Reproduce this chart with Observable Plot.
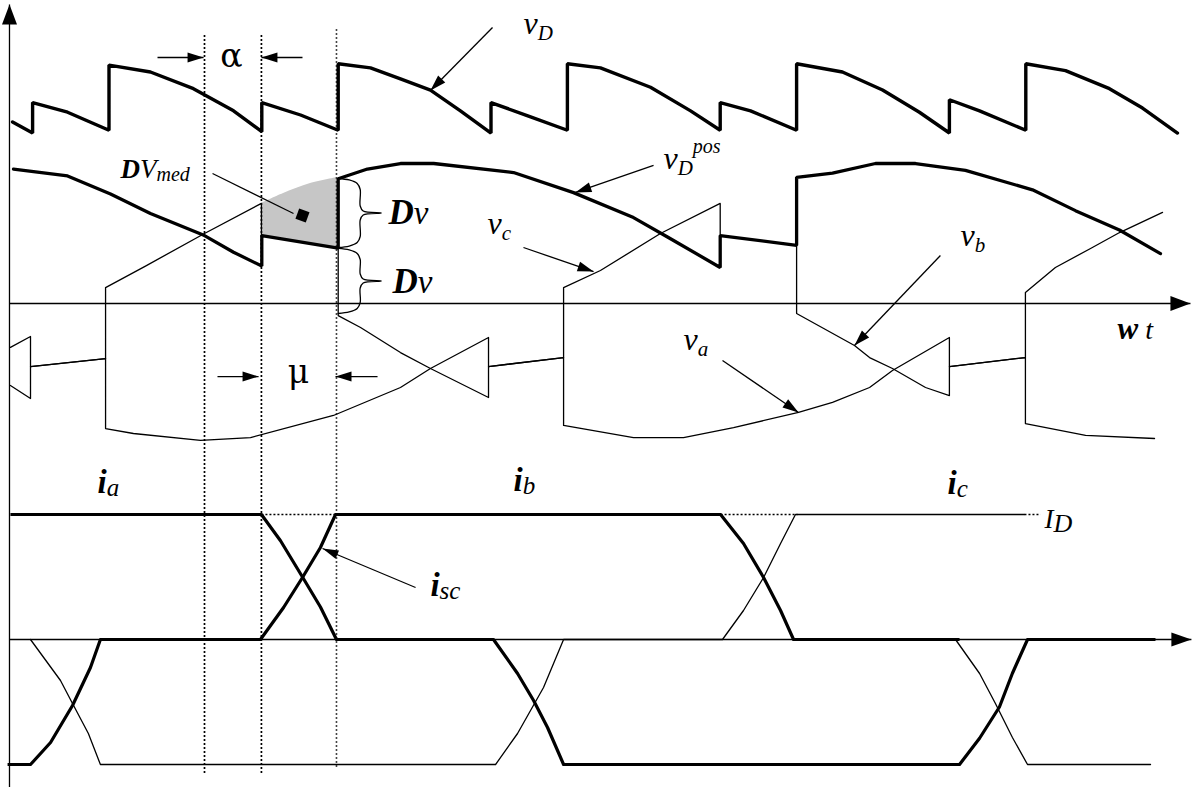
<!DOCTYPE html>
<html>
<head>
<meta charset="utf-8">
<script src="https://cdn.jsdelivr.net/npm/d3@7"></script>
<script src="https://cdn.jsdelivr.net/npm/@observablehq/plot@0.6"></script>
<style>
  html, body { margin: 0; padding: 0; background: #fff; overflow: hidden; }
  #chart { position: relative; width: 1192px; height: 787px; background: #fff; }
  #chart svg { position: absolute; left: 0; top: 0; }
  #chart tspan { white-space: pre; }
</style>
</head>
<body>
<div id="chart"></div>
<script>
// ---------- DATA (ωt in electrical degrees; voltages in p.u. of phase peak; currents in p.u. of I_D) ----------
const vD_wave = [[-70.5,1.31],[-60,1.23],[-60,1.45],[-41.7,1.38],[-20,1.25],[-20,1.72],[1.7,1.67],[24.2,1.55],[45.2,1.39],[60,1.24],[60,1.45],[80.3,1.36],[100,1.25],[100,1.73],[116.9,1.70],[132.6,1.62],[148.3,1.54],[164,1.39],[180,1.23],[180,1.45],[200,1.35],[220,1.25],[220,1.73],[237.3,1.70],[263.5,1.56],[284.5,1.39],[300,1.25],[300,1.45],[315.9,1.39],[340,1.25],[340,1.73],[364,1.67],[385,1.54],[404.3,1.38],[420,1.23],[420,1.47],[435.8,1.39],[460,1.25],[460,1.73],[480.8,1.68],[503.8,1.55],[521.1,1.41],[539.4,1.23]];
const vDpos_wave = [[-70,0.97],[-41.7,0.92],[-19.2,0.79],[1.7,0.65],[30,0.49],[45.2,0.37],[60,0.27],[60,0.49],[100,0.40],[100,0.90],[115.3,0.97],[132.6,1.01],[150,1.01],[191.8,0.945],[223.2,0.80],[254.6,0.62],[272.4,0.48],[300,0.26],[300,0.49],[340,0.42],[340,0.91],[358.8,0.94],[381.3,1.01],[402.3,1.01],[428.4,0.96],[463.5,0.82],[486,0.67],[509,0.53],[530.5,0.36]];
const vA_thin = [[100,0.404],[100,-0.087],[111.7,-0.173],[132.6,-0.354],[148.3,-0.469],[178.7,-0.678],[178.7,-0.455],[218,-0.39],[218,-0.88],[254.6,-0.967],[280.8,-0.967],[307,-0.895],[341,-0.786],[358.8,-0.714],[378.2,-0.606],[390.2,-0.483],[420,-0.245],[420,-0.455],[459.8,-0.39],[459.8,0.079],[475.5,0.26],[493.9,0.397],[509.1,0.512],[531.6,0.657]];
const vB_thin1 = [[-71.6,-0.317],[-61.1,-0.238],[-61.1,-0.455],[-21.8,-0.397],[-21.8,0.115],[-0.9,0.27],[30,0.505],[59.8,0.722],[59.8,0.491]];
const vB_thin2 = [[340,0.418],[340,-0.072],[370.3,-0.303],[378.2,-0.390],[390.2,-0.469],[407.5,-0.606],[420,-0.664],[420,-0.455],[459.8,-0.39],[459.8,-0.866],[491.3,-0.952],[527.4,-0.974]];
const vC_thin = [[-71.6,-0.592],[-61.1,-0.685],[-61.1,-0.455],[-21.8,-0.397],[-21.8,-0.902],[-7.2,-0.938],[27.9,-0.988],[54.1,-0.967],[97.5,-0.808],[132.6,-0.606],[148.3,-0.469],[178.7,-0.245],[178.7,-0.455],[218,-0.39],[218,0.115],[237.3,0.238],[268.7,0.505],[300,0.722],[300,0.491]];
// shaded ΔV_med area (commutation 60°..100°)
const dvX   = [59.8, 71.4, 85.5, 100];
const dvTop = [0.722, 0.794, 0.866, 0.909];
const dvBot = [0.491, 0.465, 0.435, 0.404];
const dvMedPoint = [{x: 81.3, y: 0.635}];
// currents
const iA_thick = [[-71.6,1],[59.8,1],[69.8,0.79],[81.3,0.5],[90.7,0.26],[99.1,0],[181.3,0],[193.9,-0.272],[202.3,-0.488],[209.6,-0.704],[218,-1],[425.3,-1],[435.8,-0.79],[446.2,-0.54],[453,-0.27],[460.9,0],[527.9,0]];
const iB_thick = [[-73.1,-1],[-61.1,-1],[-50.6,-0.824],[-39.1,-0.528],[-29.7,-0.224],[-24.5,0],[59.3,0],[71.4,0.256],[81.3,0.496],[90.7,0.736],[98.6,1],[300.2,1],[312.2,0.768],[322.7,0.496],[331.6,0.232],[338.4,0],[425.3,0]];
const iB_thin = [[423.2,0],[435.8,-0.272],[444.1,-0.512],[453,-0.784],[460.9,-1],[525.3,-1]];
const iC_thin = [[-61.1,0],[-45.4,-0.328],[-39.1,-0.512],[-30.8,-0.752],[-24.5,-1],[182.4,-1],[193.9,-0.752],[207.5,-0.384],[218,0],[301.2,0],[312.2,0.232],[322.7,0.496],[331.6,0.768],[339.4,1],[459.3,1]];
const iD_dotted = [[59.8,99.1],[300.2,340.5],[459.3,467.7]];
// instants: natural commutation, firing (α), end of overlap (μ)
const instants = [30, 59.8, 99.1];
// labels
const vLabels   = [{x:197.0,y:1.948,t:"v_D"},{x:270.3,y:0.974,t:"v_D^pos"},{x:178.2,y:0.505,t:"v_c"},{x:425.8,y:0.418,t:"v_b"},{x:280.8,y:-0.339,t:"v_a"}];
const dvLabels  = [{x:126.3,y:0.577,t:"**D**v"},{x:128.4,y:0.079,t:"**D**v"}];
const medLabel  = [{x:-14.0,y:0.909,t:"**D**V_med"}];
const greekLabels = [{x:44.1,y:1.703,t:"α"},{x:79.2,y:-0.570,t:"μ"}];
const wtLabel   = [{x:508.0,y:-0.253,t:"**w** t"}];
const iLabels   = [{x:-26.0,y:1.176,t:"**i**_a"},{x:191.8,y:1.192,t:"**i**_b"},{x:419.0,y:1.168,t:"**i**_c"},{x:148.3,y:0.352,t:"**i**_sc"}];
const IDLabel   = [{x:469.8,y:0.896,t:"I_D"}];
// annotation arrows (from → to)
const vArrows = [
  {x1:5.4,y1:1.775,x2:29.5,y2:1.775},{x1:81.3,y1:1.775,x2:59.8,y2:1.775},
  {x1:36.8,y1:-0.527,x2:58.3,y2:-0.527},{x1:120.6,y1:-0.527,x2:98.6,y2:-0.527},
  {x1:180.8,y1:1.991,x2:148.3,y2:1.537},{x1:265.1,y1:0.996,x2:224.2,y2:0.801},
  {x1:197.0,y1:0.404,x2:233.7,y2:0.23},{x1:415.3,y1:0.346,x2:370.3,y2:-0.303},
  {x1:301.2,y1:-0.411,x2:341.0,y2:-0.786}
];
const vLeader = [{x1:34.2,y1:0.938,x2:76.6,y2:0.649}];
const iArrows = [{x1:140.5,y1:0.416,x2:91.8,y2:0.728}];
const vAxes = [{x1:-72.1,y1:-3.49,x2:-72.1,y2:2.157},{x1:-72.1,y1:0,x2:546.2,y2:0}];
const iAxes = [{x1:-72.1,y1:0,x2:546.7,y2:0}];

// ---------- SCALES ----------
const X_DOMAIN = [30, 150], X_RANGE = [204, 433.2];
const V_DOMAIN = [0, 1],   V_RANGE = [303, 164.4];
const I_DOMAIN = [0, 1],   I_RANGE = [639, 514];
const kx = (X_RANGE[1]-X_RANGE[0])/(X_DOMAIN[1]-X_DOMAIN[0]);
const kv = (V_RANGE[1]-V_RANGE[0])/(V_DOMAIN[1]-V_DOMAIN[0]);
const ki = (I_RANGE[1]-I_RANGE[0])/(I_DOMAIN[1]-I_DOMAIN[0]);
const xToPx = x => X_RANGE[0] + (x - X_DOMAIN[0])*kx;
const pxToX = p => X_DOMAIN[0] + (p - X_RANGE[0])/kx;
const vToPy = v => V_RANGE[0] + (v - V_DOMAIN[0])*kv;
const pyToV = p => V_DOMAIN[0] + (p - V_RANGE[0])/kv;

const pts = (arr, id) => arr.map(([x, y]) => ({x, y, id}));

function headSymbol(ang, L, W) {
  const c = Math.cos(ang), s = Math.sin(ang);
  const r = ([x, y]) => [x*c - y*s, x*s + y*c];
  const P = [[0,0],[-W,L],[W,L]].map(r);
  return {draw(ctx) { ctx.moveTo(P[0][0],P[0][1]); ctx.lineTo(P[1][0],P[1][1]); ctx.lineTo(P[2][0],P[2][1]); ctx.closePath(); }};
}
function heads(arrows, ky, L, W) {
  return arrows.map(a => {
    const dx = (a.x2-a.x1)*kx, dy = (a.y2-a.y1)*ky;
    return Plot.dot([a], {x:"x2", y:"y2", symbol: headSymbol(Math.atan2(dx, -dy), L, W), fill:"black", stroke:"none"});
  });
}
function brace(x, yTop, yBot, id) {
  const X = xToPx(x), t = vToPy(yTop), b = vToPy(yBot), m = (t+b)/2;
  const P = [[0,t],[11,t+1.5],[19,t+5],[22,t+11],[22,m-7],[25,m-2],[43,m],[25,m+2],[22,m+7],[22,b-11],[19,b-5],[11,b-1.5],[0,b]];
  return P.map(([dx, py]) => ({x: pxToX(X+dx), y: pyToV(py), id}));
}

const thinV = [...pts(vA_thin,"a"), ...pts(vB_thin1,"b1"), ...pts(vB_thin2,"b2"), ...pts(vC_thin,"c")];
const area = dvX.map((x,i) => ({x, top: dvTop[i], bot: dvBot[i]}));
const braces = [...brace(100, 0.902, 0.404, "b1"), ...brace(100, 0.397, -0.072, "b2")];
const SERIF = "'Liberation Serif', 'Times New Roman', serif";
const GREEK = "'DejaVu Serif', serif";

const common = {
  width: 1192, height: 787, marginTop: 0, marginRight: 0, marginBottom: 0, marginLeft: 0,
  x: {type: "linear", domain: X_DOMAIN, range: X_RANGE, axis: null},
  style: {background: "transparent", overflow: "visible"}
};
const txt = (data, group, anchor = "start") =>
  Plot.text(data, {x: "x", y: "y", text: "t", textAnchor: anchor, lineAnchor: "bottom", ariaDescription: group});

const vPlot = Plot.plot({
  ...common,
  y: {type: "linear", domain: V_DOMAIN, range: V_RANGE, axis: null},
  marks: [
    Plot.areaY(area, {x: "x", y1: "bot", y2: "top", fill: "#c6c6c6", curve: "catmull-rom"}),
    Plot.ruleX(instants.slice(0,2), {y1: -3.391, y2: 1.948, stroke: "black", strokeWidth: 1.7, strokeDasharray: "2,2"}),
    Plot.ruleX(instants.slice(2), {y1: -3.348, y2: 1.984, stroke: "#444", strokeWidth: 1.6, strokeDasharray: "2,2"}),
    Plot.link(vAxes, {x1:"x1", y1:"y1", x2:"x2", y2:"y2", stroke: "black", strokeWidth: 1.3, strokeLinecap: "butt"}),
    ...heads(vAxes, kv, 20, 7.5),
    Plot.line(thinV, {x: "x", y: "y", z: "id", stroke: "black", strokeWidth: 1.3, curve: "linear"}),
    Plot.line(pts(vDpos_wave,"p"), {x: "x", y: "y", stroke: "black", strokeWidth: 3.3, curve: "linear", strokeLinejoin: "miter"}),
    Plot.line(pts(vD_wave,"d"), {x: "x", y: "y", stroke: "black", strokeWidth: 3.4, curve: "linear", strokeLinejoin: "miter"}),
    Plot.line(braces, {x: "x", y: "y", z: "id", stroke: "black", strokeWidth: 1.3, curve: "catmull-rom"}),
    Plot.link(vArrows, {x1:"x1", y1:"y1", x2:"x2", y2:"y2", stroke: "black", strokeWidth: 1.3}),
    Plot.link(vLeader, {x1:"x1", y1:"y1", x2:"x2", y2:"y2", stroke: "black", strokeWidth: 1.2}),
    ...heads(vArrows, kv, 16, 5),
    Plot.dot(dvMedPoint, {x: "x", y: "y", symbol: "square", r: 6.2, fill: "black", stroke: "none", rotate: 20}),
    txt(vLabels, "lab-v"),
    txt(dvLabels, "lab-dv"),
    txt(medLabel, "lab-med"),
    txt(greekLabels, "lab-greek", "middle"),
    txt(wtLabel, "lab-wt")
  ]
});

const iPlot = Plot.plot({
  ...common,
  y: {type: "linear", domain: I_DOMAIN, range: I_RANGE, axis: null},
  marks: [
    Plot.link(iAxes, {x1:"x1", y1:"y1", x2:"x2", y2:"y2", stroke: "black", strokeWidth: 1.3, strokeLinecap: "butt"}),
    ...heads(iAxes, ki, 20, 7),
    Plot.link(iD_dotted.map(([a,b]) => ({a, b})), {x1: "a", x2: "b", y1: () => 1, y2: () => 1, stroke: "black", strokeWidth: 1.5, strokeDasharray: "2,2"}),
    Plot.line([...pts(iC_thin,"c"), ...pts(iB_thin,"bt")], {x: "x", y: "y", z: "id", stroke: "black", strokeWidth: 1.3, curve: "linear"}),
    Plot.line([...pts(iA_thick,"a"), ...pts(iB_thick,"b")], {x: "x", y: "y", z: "id", stroke: "black", strokeWidth: 3.2, curve: "linear", strokeLinecap: "butt"}),
    Plot.link(iArrows, {x1:"x1", y1:"y1", x2:"x2", y2:"y2", stroke: "black", strokeWidth: 1.2}),
    ...heads(iArrows, ki, 16, 4.5),
    txt(iLabels, "lab-i"),
    txt(IDLabel, "lab-I")
  ]
});

const chart = document.getElementById("chart");
chart.appendChild(vPlot);
chart.appendChild(iPlot);

// ---------- rich text: **bold**, _subscript, ^superscript ----------
const TEXT_STYLES = {
  "lab-v":     {font: SERIF, base: 32, bold: 32, sub: 21, subShift: 6, sup: 20, supShift: -16},
  "lab-dv":    {font: SERIF, base: 33, bold: 35, sub: 20, subShift: 4, sup: 20, supShift: -14},
  "lab-med":   {font: SERIF, base: 27, bold: 27, sub: 20, subShift: 3, sup: 19, supShift: -12},
  "lab-greek": {font: GREEK, base: 33, bold: 33, sub: 20, subShift: 4, sup: 20, supShift: -12, upright: true},
  "lab-wt":    {font: SERIF, base: 28, bold: 31, sub: 20, subShift: 4, sup: 20, supShift: -12},
  "lab-i":     {font: SERIF, base: 32, bold: 33, sub: 25, subShift: 3, sup: 20, supShift: -14},
  "lab-I":     {font: SERIF, base: 27, bold: 27, sub: 26, subShift: 4, sup: 20, supShift: -14}
};
function richify(svg) {
  for (const [group, st] of Object.entries(TEXT_STYLES)) {
    svg.querySelectorAll(`g[aria-description="${group}"] text`).forEach(el => {
      const src = el.textContent;
      el.textContent = "";
      el.setAttribute("font-family", st.font);
      el.style.fontFamily = st.font;
      const parts = [];
      let mode = "base", bold = false, buf = "";
      const flush = () => { if (buf) parts.push({mode, bold, s: buf}); buf = ""; };
      for (let i = 0; i < src.length; i++) {
        if (src.startsWith("**", i)) { flush(); bold = !bold; i++; continue; }
        const c = src[i];
        if (c === "_") { flush(); mode = "sub"; continue; }
        if (c === "^") { flush(); mode = "sup"; continue; }
        buf += c;
      }
      flush();
      let cur = 0;
      for (const p of parts) {
        const ts = document.createElementNS("http://www.w3.org/2000/svg", "tspan");
        const target = p.mode === "sub" ? st.subShift : p.mode === "sup" ? st.supShift : 0;
        ts.setAttribute("dy", target - cur); cur = target;
        ts.style.fontFamily = st.font;
        ts.style.fontSize = (p.mode === "base" ? (p.bold ? st.bold : st.base) : p.mode === "sub" ? st.sub : st.sup) + "px";
        ts.style.fontStyle = st.upright ? "normal" : "italic";
        ts.style.fontWeight = p.bold ? "bold" : "normal";
        ts.textContent = p.s;
        el.appendChild(ts);
      }
    });
  }
}
richify(vPlot);
richify(iPlot);
</script>
</body>
</html>
